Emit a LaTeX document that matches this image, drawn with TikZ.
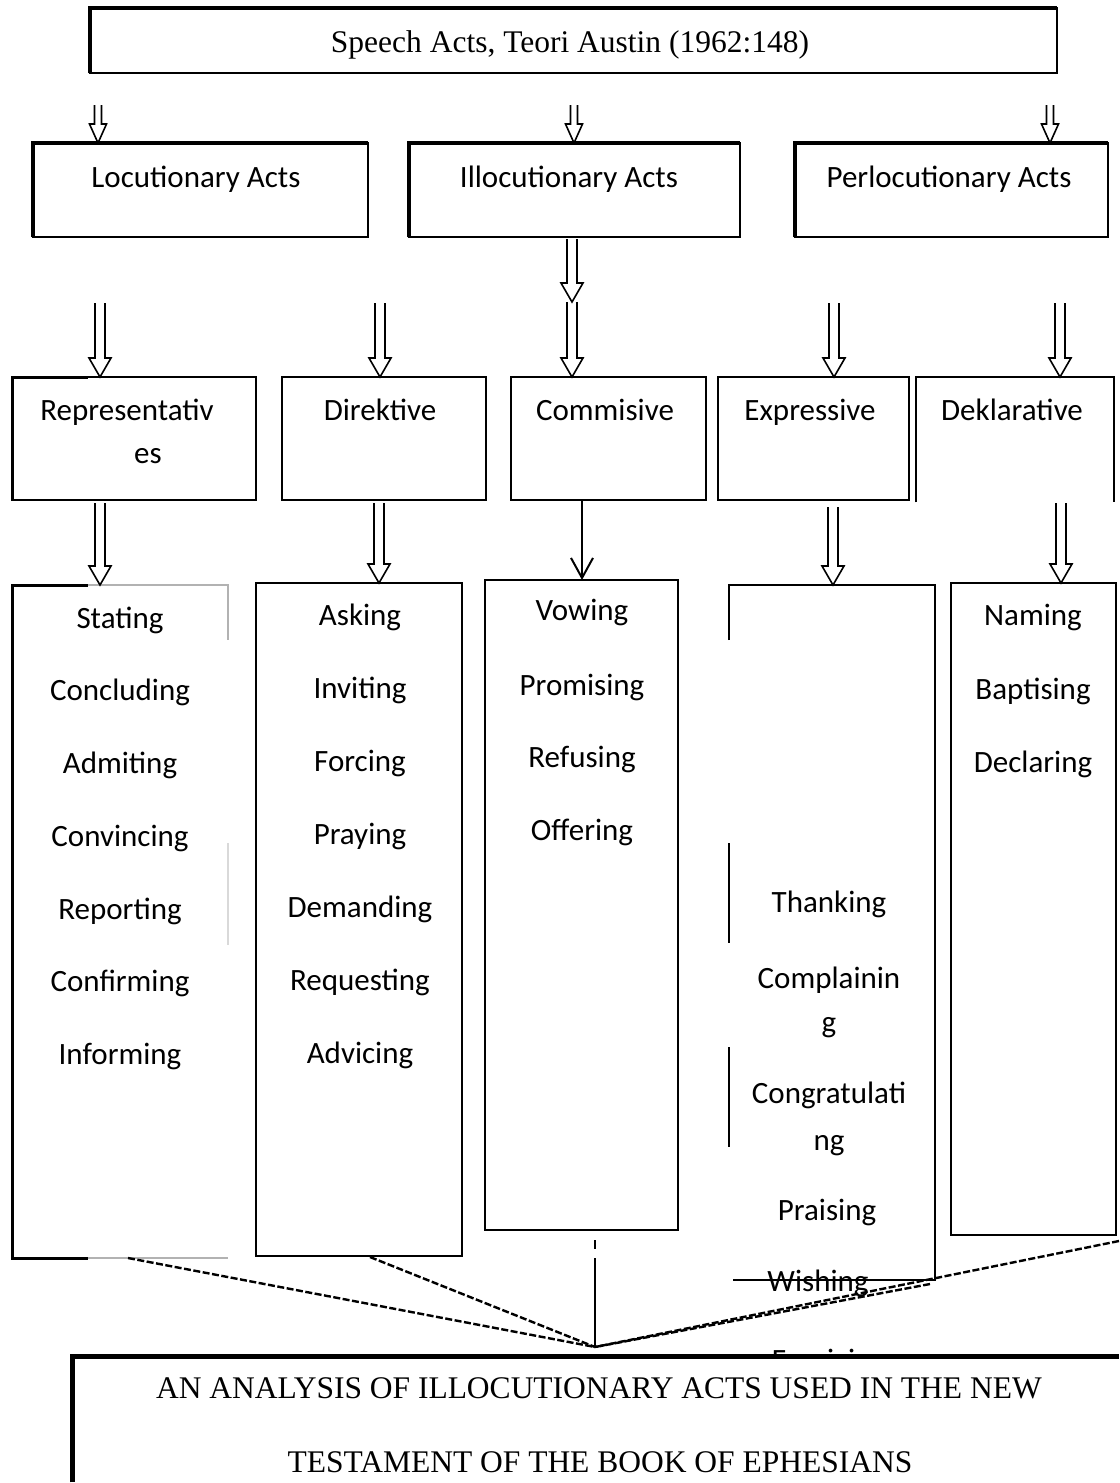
\documentclass[tikz,border=0pt]{standalone}
\usepackage{fontspec}
\setmainfont{Liberation Serif}
\newfontfamily\calfont{Carlito}
\usetikzlibrary{calc,arrows.meta}
\newcommand\hollowarr[5]{%
  \draw[harrowline] let \p1=(#1), \p2=(#2) in
    ({\x1-#3},\y1) -- ({\x1-#3},{\y2+#5}) -- ({\x1-#4},{\y2+#5}) -- (\x1,\y2)
    -- ({\x1+#4},{\y2+#5}) -- ({\x1+#3},{\y2+#5}) -- ({\x1+#3},\y1);}
\begin{document}
\begin{tikzpicture}[x=1pt,y=-1pt,line join=miter,
  bline/.style={line width=2pt,draw=black},
  tline/.style={line width=3.6pt,draw=black},
  gline/.style={line width=2pt,draw=black!30},
  dline/.style={line width=2.4pt,dash pattern=on 7pt off 2.5pt},
  harrowline/.style={line width=1.6pt,draw=black},
  cal/.style={font=\calfont\fontsize{31}{37}\selectfont,inner sep=0pt,anchor=base},
  tim/.style={font=\fontsize{31.5}{38}\selectfont,inner sep=0pt,anchor=base},
  area/.style={inner sep=0pt,anchor=north west,draw=none}]
\useasboundingbox[fill=white] (0,0) rectangle (1119,1483);

% ---------- top box
\node[area,minimum width=967pt,minimum height=65pt] (top) at (90,8) {};
\draw[bline] (top.north west) rectangle (top.south east);
\draw[tline] (top.south west) -- (top.north west) -- (top.north east);
\node[tim] (ttop) at (570,52) {Speech Acts, Teori Austin (1962:148)};

% ---------- row 2
\node[area,minimum width=335pt,minimum height=94pt] (loc) at (33,143) {};
\node[area,minimum width=331pt,minimum height=94pt] (ill) at (409,143) {};
\node[area,minimum width=313pt,minimum height=94pt] (per) at (795,143) {};
\foreach \b in {loc,ill,per}{
  \draw[bline] (\b.north west) rectangle (\b.south east);
  \draw[tline] (\b.south west) -- (\b.north west) -- (\b.north east);}
\node[cal] (tloc) at (196,187) {Locutionary Acts};
\node[cal] (till) at (569,187) {Illocutionary Acts};
\node[cal] (tper) at (949,187) {Perlocutionary Acts};

\coordinate (a1) at (98,105);
\coordinate (a2) at (574,105);
\coordinate (a3) at (1050,105);
\hollowarr{a1}{a1 |- loc.north}{3.5pt}{8.5pt}{19pt}
\hollowarr{a2}{a2 |- ill.north}{3.5pt}{8.5pt}{19pt}
\hollowarr{a3}{a3 |- per.north}{3.5pt}{8.5pt}{19pt}

% ---------- row 3
\node[area,minimum width=244pt,minimum height=123pt] (rep) at (12,377) {};
\node[area,minimum width=204pt,minimum height=123pt] (dir) at (282,377) {};
\node[area,minimum width=195pt,minimum height=123pt] (com) at (511,377) {};
\node[area,minimum width=191pt,minimum height=123pt] (exp) at (718,377) {};
\node[area,minimum width=198pt,minimum height=125pt] (dek) at (916,377) {};
\foreach \b in {rep,dir,com,exp}{
  \draw[bline] (\b.north west) rectangle (\b.south east);}
\draw[line width=3pt] (rep.south west) -- (rep.north west) -- ++(76,0);
\draw[bline] (dek.south west) -- (dek.north west) -- (dek.north east) -- (dek.south east);
\node[cal] (trep) at (127,420) {Representativ};
\node[cal] (trep2) at (148,463) {es};
\node[cal] (tdir) at (380,420) {Direktive};
\node[cal] (tcom) at (605,420) {Commisive};
\node[cal] (texp) at (810,420) {Expressive};
\node[cal] (tdek) at (1012,420) {Deklarative};

\coordinate (b1) at (100,303);
\coordinate (b2) at (380,303);
\coordinate (b3s) at (572,239);
\coordinate (b3) at (572,302);
\coordinate (b4) at (834,303);
\coordinate (b5) at (1060,303);
\hollowarr{b1}{b1 |- rep.north}{5pt}{11pt}{19pt}
\hollowarr{b2}{b2 |- dir.north}{5pt}{11pt}{19pt}
\hollowarr{b3s}{b3}{5pt}{11pt}{19pt}
\hollowarr{b3}{b3 |- com.north}{5pt}{11pt}{19pt}
\hollowarr{b4}{b4 |- exp.north}{5pt}{11pt}{19pt}
\hollowarr{b5}{b5 |- dek.north}{5pt}{11pt}{19pt}

% ---------- row 4
\node[area,minimum width=216pt,minimum height=673pt] (rl) at (12,585) {};
\node[area,minimum width=206pt,minimum height=673pt] (dl) at (256,583) {};
\node[area,minimum width=193pt,minimum height=650pt] (cl) at (485,580) {};
\node[area,minimum width=206pt,minimum height=695pt] (el) at (729,585) {};
\node[area,minimum width=165pt,minimum height=652pt] (kl) at (951,583) {};

% representatives list (partly open box)
\draw[line width=3pt] ($(rl.north west)+(76,0)$) -- (rl.north west) -- (rl.south west) -- ++(76,0);
\draw[gline] ($(rl.north west)+(76,0)$) -- (rl.north east) -- ++(0,55);
\draw[gline,draw=black!15] ($(rl.north east)+(0,258)$) -- ++(0,102);
\draw[gline] ($(rl.south west)+(76,0)$) -- (rl.south east);
% direktive, commisive, deklarative lists
\draw[bline] (dl.north west) rectangle (dl.south east);
\draw[bline] (cl.north west) rectangle (cl.south east);
\draw[bline] (kl.north west) rectangle (kl.south east);
% expressive list (partly open left side)
\draw[bline] ($(el.north west)+(0,55)$) -- (el.north west) -- (el.north east) -- (el.south east) -- ($(el.south west)+(4,0)$);
\draw[bline] ($(el.north west)+(0,258)$) -- ++(0,100);
\draw[bline] ($(el.north west)+(0,462)$) -- ++(0,100);

\coordinate (c1) at (100,503);
\coordinate (c2) at (379,503);
\coordinate (c3) at (582,500);
\coordinate (c4) at (833,507);
\coordinate (c5) at (1061,503);
\hollowarr{c1}{c1 |- rl.north}{5pt}{11pt}{19pt}
\hollowarr{c2}{c2 |- dl.north}{5pt}{11pt}{19pt}
\draw[line width=2pt,-{Straight Barb[length=20pt,width=22pt,line width=2pt]}] (c3) -- (c3 |- cl.north);
\hollowarr{c4}{c4 |- el.north}{5pt}{11pt}{19pt}
\hollowarr{c5}{c5 |- kl.north}{5pt}{11pt}{19pt}

% list items
\node[cal] (r1) at (120,628) {Stating};
\node[cal] (r2) at (120,700) {Concluding};
\node[cal] (r3) at (120,773) {Admiting};
\node[cal] (r4) at (120,846) {Convincing};
\node[cal] (r5) at (120,919) {Reporting};
\node[cal] (r6) at (120,991) {Confirming};
\node[cal] (r7) at (120,1064) {Informing};

\node[cal] (d1) at (360,625) {Asking};
\node[cal] (d2) at (360,698) {Inviting};
\node[cal] (d3) at (360,771) {Forcing};
\node[cal] (d4) at (360,844) {Praying};
\node[cal] (d5) at (360,917) {Demanding};
\node[cal] (d6) at (360,990) {Requesting};
\node[cal] (d7) at (360,1063) {Advicing};

\node[cal] (m1) at (582,620) {Vowing};
\node[cal] (m2) at (582,695) {Promising};
\node[cal] (m3) at (582,767) {Refusing};
\node[cal] (m4) at (582,840) {Offering};

\node[cal] (e1) at (829,912) {Thanking};
\node[cal] (e2) at (829,988) {Complainin};
\node[cal] (e2b) at (829,1032) {g};
\node[cal] (e3) at (829,1103) {Congratulati};
\node[cal] (e3b) at (829,1150) {ng};
\node[cal] (e4) at (827,1220) {Praising};
\node[cal] (e5) at (818,1291) {Wishing};
\node[cal] (e6) at (829,1370) {Forgiving};

\node[cal] (k1) at (1033,625) {Naming};
\node[cal] (k2) at (1033,699) {Baptising};
\node[cal] (k3) at (1033,772) {Declaring};

% ---------- converging connectors
\coordinate (conv) at (595,1347);
\coordinate (s1) at (128,1258);
\coordinate (s2) at (370,1257);
\coordinate (s3) at (595,1258);
\coordinate (s3t) at (595,1240);
\coordinate (s4) at (1119,1241);
\coordinate (s5) at (930,1284);
\draw[dline] (s1) -- (conv);
\draw[dline] (s2) -- (conv);
\draw[line width=2pt] (s3) -- (conv);
\draw[line width=1.5pt] (s3t) -- ++(0,9);
\draw[dline] (s4) -- (conv);
\draw[dline] (s5) -- (conv);

% ---------- bottom box
\node[area,minimum width=1047pt,minimum height=126pt,fill=white] (bot) at (72,1356) {};
\draw[line width=5pt] (bot.south west) -- (bot.north west) -- (bot.north east);
\node[tim] (tb1) at (599,1398) {AN ANALYSIS OF ILLOCUTIONARY ACTS USED IN THE NEW};
\node[tim] (tb2) at (600,1472) {TESTAMENT OF THE BOOK OF EPHESIANS};
\end{tikzpicture}
\end{document}
